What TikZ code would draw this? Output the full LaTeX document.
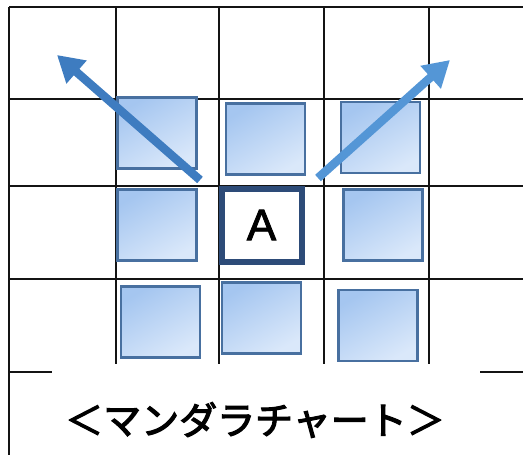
\documentclass[tikz,border=0pt]{standalone}
\usepackage{fontspec}
\setmainfont{Liberation Sans}
\newfontfamily\jpfont[FakeBold=3]{Noto Sans CJK JP}
\newfontfamily\themefont[FakeBold=2]{Liberation Sans}
\usetikzlibrary{arrows.meta,positioning}
\definecolor{mandagrid}{RGB}{20,20,20}
\definecolor{mandaedge}{RGB}{72,112,160}
\definecolor{mandadark}{RGB}{45,75,120}
\definecolor{mandafillA}{RGB}{165,198,240}
\definecolor{mandafillB}{RGB}{218,232,250}
\definecolor{mandaarrowL}{RGB}{62,124,192}
\definecolor{mandaarrowR}{RGB}{84,150,214}

\tikzset{
  gridline/.style={line width=2.4pt, mandagrid},
  cellbox/.style={draw=mandaedge, line width=2.8pt, shading=axis,
    top color=mandafillA, bottom color=mandafillB, shading angle=30,
    minimum width=79pt, minimum height=71pt, inner sep=0pt},
  centerbox/.style={draw=mandadark, line width=6pt, fill=white,
    minimum width=80pt, minimum height=73pt, inner sep=0pt,
    font=\themefont\fontsize{44}{48}\selectfont},
  spread/.style={line width=8.5pt, -{Triangle[length=26pt,width=29pt]}}
}

\begin{document}
\begin{tikzpicture}[x=1pt, y=-1pt]
\useasboundingbox (0,0) rectangle (523,455);

% === Grid ===
\foreach \yy in {7,99,186,279}
  \draw[gridline] (9,\yy) -- (523,\yy);
\draw[gridline] (9,7) -- (9,455);
\foreach \xx in {116,219,324,429}
  \draw[gridline] (\xx,7) -- (\xx,364);
\draw[gridline] (9,372) -- (52,372);
\draw[gridline] (480,372) -- (523,372);

% === Surrounding cells ===
\node[cellbox] (nw) at (157,133) {};
\node[cellbox] (n)  at (265.5,139) {};
\node[cellbox] (ne) at (380.5,137.5) {};
\node[cellbox] (w)  at (157,225) {};
\node[cellbox] (e)  at (383,225) {};
\node[cellbox] (sw) at (160.5,322) {};
\node[cellbox] (s)  at (261.5,318) {};
\node[cellbox] (se) at (378,325.5) {};

% === Centre theme ===
\node[centerbox] (theme) at (261.5,225) {A};

% Arrows spreading out
\coordinate (startL) at (200,180);
\coordinate (tipL) at (57,55);
\coordinate (startR) at (318,178);
\coordinate (tipR) at (450,60);
\draw[spread, mandaarrowL] (startL) -- (tipL);
\draw[spread, mandaarrowR] (startR) -- (tipR);

% Caption
\node[font=\jpfont\fontsize{38}{42}\selectfont] (caption) at (255,420) {＜マンダラチャート＞};

\end{tikzpicture}
\end{document}
